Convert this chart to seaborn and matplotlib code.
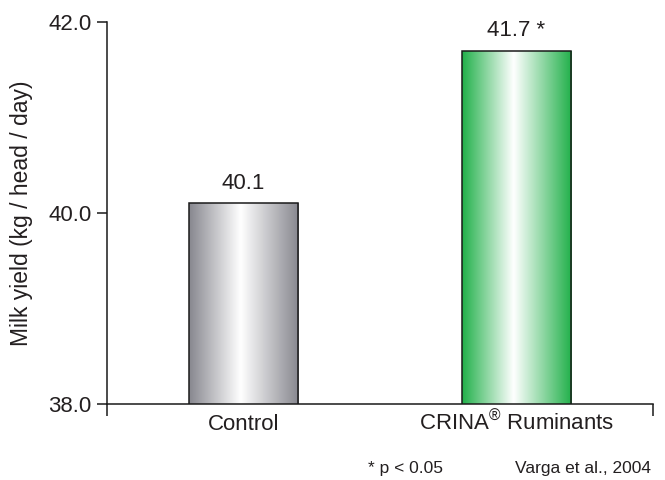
import numpy as np
import matplotlib
matplotlib.use("Agg")
import matplotlib.pyplot as plt
from matplotlib.colors import LinearSegmentedColormap
import seaborn as sns

categories = ["Control", "CRINA$^{®}$ Ruminants"]
values = [40.1, 41.7]
value_labels = ["40.1", "41.7 *"]
y_ticks = [38.0, 40.0, 42.0]
edge_colors = [(0.53, 0.53, 0.56), (0.13, 0.69, 0.29)]
ylabel = "Milk yield (kg / head / day)"
footnote_left = "* p < 0.05"
footnote_right = "Varga et al., 2004"

sns.set_theme(style="white")
plt.rcParams["font.family"] = ["Liberation Sans", "DejaVu Sans"]
plt.rcParams["mathtext.fontset"] = "custom"
plt.rcParams["mathtext.rm"] = "Liberation Sans"
plt.rcParams["mathtext.it"] = "Liberation Sans"
plt.rcParams["mathtext.bf"] = "Liberation Sans"
txt = "#231f20"
fs = 16

fig = plt.figure(figsize=(6.65, 4.8), dpi=100)
ax = fig.add_axes([107 / 665, 1 - 404 / 480, (653 - 107) / 665, (404 - 22) / 480])

sns.barplot(x=categories, y=values, ax=ax, width=0.4, color="white",
            edgecolor="#1a1a1a", linewidth=1.1, zorder=3)

ax.set_ylim(38, 42)
ax.set_xlim(-0.5, 1.5)

for patch, col in zip(ax.patches, edge_colors):
    patch.set_facecolor("none")
    x0 = patch.get_x()
    x1 = x0 + patch.get_width()
    y1 = patch.get_y() + patch.get_height()
    cmap = LinearSegmentedColormap.from_list(
        "g", [(0.0, col), (0.47, (1, 1, 1)), (1.0, col)])
    grad = np.linspace(0, 1, 256).reshape(1, -1)
    im = ax.imshow(grad, cmap=cmap, aspect="auto", extent=(x0, x1, 38, y1),
                   zorder=2.5, interpolation="bicubic")
    im.set_clip_path(patch)

for i, (v, lab) in enumerate(zip(values, value_labels)):
    ax.annotate(lab, xy=(i, v), xytext=(0, 7), textcoords="offset points",
                ha="center", va="bottom", fontsize=fs, color=txt)

ax.set_yticks(y_ticks)
ax.set_yticklabels([f"{t:.1f}" for t in y_ticks])
ax.set_xticks([0, 1])
ax.set_xticklabels(categories)
ax.set_xticks([-0.5, 1.5], minor=True)
ax.tick_params(axis="x", which="major", length=0, pad=18.5, labelsize=fs, labelcolor=txt)
for lbl in ax.get_xticklabels():
    lbl.set_verticalalignment("baseline")
ax.tick_params(axis="x", which="minor", length=8.6, width=1.1, color="#1a1a1a",
               direction="out", bottom=True)
ax.tick_params(axis="y", which="major", length=7.2, width=1.1, color="#1a1a1a",
               direction="out", left=True, pad=4, labelsize=fs, labelcolor=txt)
ax.set_ylabel(ylabel, fontsize=16.5, color=txt, labelpad=11)
ax.set_xlabel("")

for s in ["top", "right"]:
    ax.spines[s].set_visible(False)
for s in ["left", "bottom"]:
    ax.spines[s].set_color("#1a1a1a")
    ax.spines[s].set_linewidth(1.1)
ax.grid(False)

fig.text(368 / 665, 1 - 468 / 480, footnote_left, fontsize=12.5, color=txt,
         ha="left", va="center")
fig.text(651 / 665, 1 - 468 / 480, footnote_right, fontsize=12.5, color=txt,
         ha="right", va="center")

fig.savefig("out.png", dpi=100)
